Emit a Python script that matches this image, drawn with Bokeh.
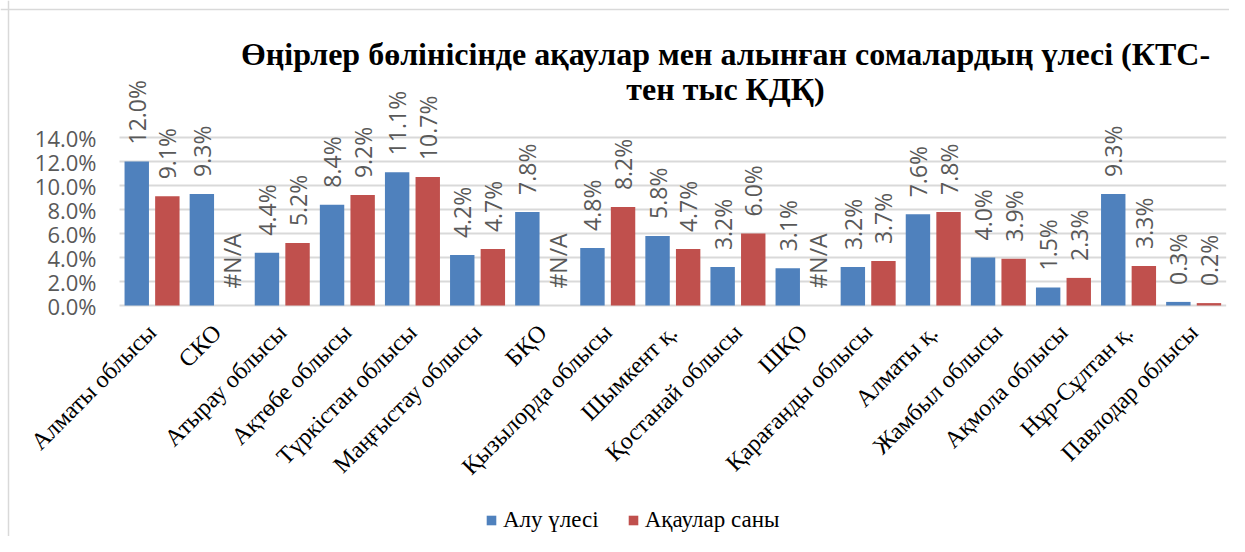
import math
from bokeh.plotting import figure
from bokeh.models import (ColumnDataSource, Range1d, Label, Legend, LegendItem, Span)
from bokeh.transform import dodge
from bokeh.core.properties import value
from bokeh.embed import file_html
from bokeh.resources import INLINE

categories = ["Алматы облысы", "СКО", "Атырау облысы", "Ақтөбе облысы", "Түркістан облысы",
              "Маңғыстау облысы", "БҚО", "Қызылорда облысы", "Шымкент қ.", "Қостанай облысы",
              "ШҚО", "Қарағанды облысы", "Алматы қ.", "Жамбыл облысы", "Ақмола облысы",
              "Нұр-Сұлтан қ.", "Павлодар облысы"]
alu_ulesi = [12.0, 9.3, 4.4, 8.4, 11.1, 4.2, 7.8, 4.8, 5.8, 3.2, 3.1, 3.2, 7.6, 4.0, 1.5, 9.3, 0.3]
aqaular_sany = [9.1, None, 5.2, 9.2, 10.7, 4.7, None, 8.2, 4.7, 6.0, None, 3.7, 7.8, 3.9, 2.3, 3.3, 0.2]
y_ticks = [0, 2, 4, 6, 8, 10, 12, 14]
y_tick_labels = ["0.0%", "2.0%", "4.0%", "6.0%", "8.0%", "10.0%", "12.0%", "14.0%"]
title_line1 = "Өңірлер бөлінісінде ақаулар мен алынған сомалардың үлесі (КТС-"
title_line2 = "тен тыс КДҚ)"
series_names = ["Алу үлесі", "Ақаулар саны"]

BLUE = "#4F81BD"
RED = "#C0504D"
GRID = "#D9D9D9"
LABEL_GRAY = "#595959"

n = len(categories)
xpos = [i + 0.5 for i in range(n)]

blue_src = ColumnDataSource(dict(
    x=xpos,
    top=alu_ulesi,
    lab=[f"{v:.1f}%" for v in alu_ulesi],
))
red_src = ColumnDataSource(dict(
    x=xpos,
    top=[(v if v is not None else 0.0) for v in aqaular_sany],
    lab=[(f"{v:.1f}%" if v is not None else "#N/A") for v in aqaular_sany],
))
cat_src = ColumnDataSource(dict(x=xpos, y=[0.0] * n, cat=categories))
tick_src = ColumnDataSource(dict(y=y_ticks, x0=[0] * len(y_ticks), x1=[n] * len(y_ticks),
                                 lab=y_tick_labels))

W, H = 1229, 536
PX_CAT = 65.1   # pixels per category
PX_PCT = 12.0   # pixels per 1 %
X0, Y0 = 119, 305  # pixel position of the plot origin inside the canvas

p = figure(x_range=Range1d(-X0 / PX_CAT, (W - X0) / PX_CAT),
           y_range=Range1d(-(H - Y0) / PX_PCT, Y0 / PX_PCT),
           width=W, height=H, output_backend="svg", toolbar_location=None,
           min_border_left=0, min_border_right=0, min_border_top=0, min_border_bottom=0)
p.outline_line_color = None
p.xaxis.visible = False
p.yaxis.visible = False
p.xgrid.grid_line_color = None
p.ygrid.grid_line_color = None

# chart-area border (left and top)
p.add_layout(Span(location=8, location_units="screen", dimension="height",
                  line_color=GRID, line_width=1.5))
p.add_layout(Span(location=H - 9, location_units="screen", dimension="width",
                  line_color=GRID, line_width=1.5))

# gridlines
p.segment(x0="x0", x1="x1", y0="y", y1="y", source=tick_src, line_color=GRID, line_width=2)

# y tick labels
p.text(x="x0", y="y", text="lab", source=tick_src, x_offset=-23, text_align="right",
       text_baseline="middle", text_font=value("Open Sans"), text_font_size="22px",
       text_color=LABEL_GRAY)

bw = 0.375
off = 0.235
rb = p.vbar(x=dodge("x", -off), top="top", width=bw, source=blue_src,
            fill_color=BLUE, line_color=None)
rr = p.vbar(x=dodge("x", off), top="top", width=bw, source=red_src,
            fill_color=RED, line_color=None)

lab_font = value("Open Sans")
for src, o in ((blue_src, -off), (red_src, off)):
    p.text(x=dodge("x", o), y="top", text="lab", source=src,
           angle=math.pi / 2, text_align="left", text_baseline="middle", y_offset=-17,
           text_font=lab_font, text_font_size="23px", text_color=LABEL_GRAY)

# category labels
p.text(x=dodge("x", 0.0), y="y", text="cat", source=cat_src,
       angle=math.pi / 4, text_align="right", text_baseline="middle", y_offset=23,
       text_font=value("Liberation Serif"), text_font_size="24px", text_color="black")

# title (screen units relative to frame bottom-left)
for txt, yy in ((title_line1, H - 53), (title_line2, H - 88)):
    p.add_layout(Label(x=725, y=yy, x_units="screen", y_units="screen", text=txt,
                       text_align="center", text_baseline="alphabetic",
                       text_font="Liberation Serif", text_font_style="bold",
                       text_font_size="32px", text_color="black"))

legend = Legend(items=[LegendItem(label=series_names[0], renderers=[rb]),
                       LegendItem(label=series_names[1], renderers=[rr])],
                location=(485, 3), orientation="horizontal",
                label_text_font="Liberation Serif", label_text_font_size="23px",
                label_text_color="black", glyph_width=12, glyph_height=12,
                label_standoff=6, spacing=28, padding=0, margin=0,
                border_line_color=None, background_fill_alpha=0)
p.add_layout(legend, "center")

open("out.html", "w").write(file_html(p, INLINE))
